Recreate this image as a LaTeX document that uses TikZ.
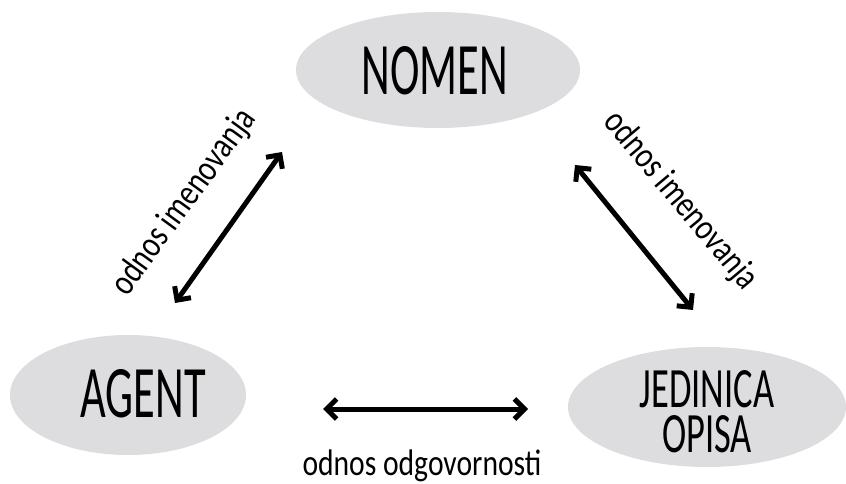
\documentclass[tikz,border=0pt]{standalone}
\usepackage{fontspec}
\setmainfont{Carlito}
\newfontfamily\bigfont[FakeStretch=0.6]{Carlito}
\newfontfamily\midfont[FakeStretch=0.64]{Carlito}
\newfontfamily\labfont[FakeStretch=0.8]{Carlito}
\usetikzlibrary{shapes.geometric,arrows.meta}
\definecolor{ovalgray}{RGB}{221,221,223}
\tikzset{
  oval/.style={ellipse, fill=ovalgray, draw=none, inner sep=0pt},
  bigtext/.style={anchor=base, inner sep=0pt, font=\bigfont\fontsize{74}{80}\selectfont},
  midtext/.style={anchor=base, inner sep=0pt, font=\midfont\fontsize{57}{60}\selectfont},
  lab/.style={anchor=base, inner sep=0pt, font=\labfont\fontsize{37}{40}\selectfont},
  rel/.style={line width=5pt, {Straight Barb[length=10pt,width=20pt,line width=5pt]}-{Straight Barb[length=10pt,width=20pt,line width=5pt]}, line cap=round, line join=round}
}
\begin{document}
\begin{tikzpicture}[x=1pt,y=-1pt]
\useasboundingbox (0,0) rectangle (846,484);
\node[oval, minimum width=284pt, minimum height=116pt] (nomen) at (438,70) {};
\node[oval, minimum width=236pt, minimum height=120pt] (agent) at (128,395) {};
\node[oval, minimum width=278pt, minimum height=120pt] (jed) at (707,407) {};
\node[bigtext] (tnomen) at (435,95) {NOMEN};
\node[bigtext] (tagent) at (143,417) {AGENT};
\node[midtext] (tjed) at (707,407) {JEDINICA};
\node[midtext] (topisa) at (707,452) {OPISA};
\coordinate (l1) at (282,152);
\coordinate (l2) at (175,303);
\coordinate (r1) at (575,165);
\coordinate (r2) at (693,310);
\coordinate (b1) at (323,409);
\coordinate (b2) at (528,409);
\draw[rel] (l1) -- (l2);
\draw[rel] (r1) -- (r2);
\draw[rel] (b1) -- (b2);
\node[lab, rotate=54] (labl) at (192,208) {odnos imenovanja};
\node[lab, rotate=-50] (labr) at (673,207) {odnos imenovanja};
\node[lab] (labb) at (422,475) {odnos odgovornosti};
\end{tikzpicture}
\end{document}
